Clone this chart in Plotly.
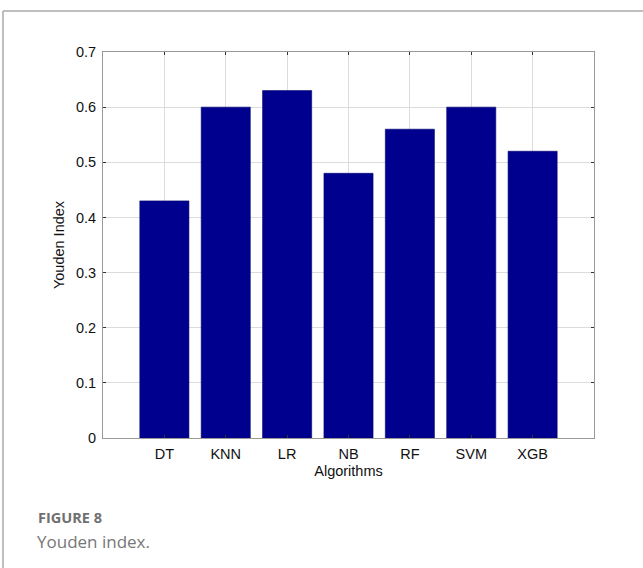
import plotly.graph_objects as go

algorithms = ["DT", "KNN", "LR", "NB", "RF", "SVM", "XGB"]
youden = [0.43, 0.60, 0.63, 0.48, 0.56, 0.60, 0.52]
positions = [1, 2, 3, 4, 5, 6, 7]
y_ticks = [0, 0.1, 0.2, 0.3, 0.4, 0.5, 0.6, 0.7]
y_tick_text = ["0", "0.1", "0.2", "0.3", "0.4", "0.5", "0.6", "0.7"]

fig = go.Figure()
fig.add_trace(go.Bar(
    x=positions, y=youden, width=0.8,
    marker=dict(color="#00008F", line=dict(color="#000070", width=0.6)),
    hoverinfo="skip",
))

font_ax = dict(family="Liberation Sans, Arial, sans-serif", size=14.5, color="#111")

W, H = 643, 568
L, T, R, B = 103, 52, 49, 130
pw, ph = W - L - R, H - T - B

def px(x):  # page x -> paper
    return (x - L) / pw

def py(y):  # page y -> paper
    return (H - B - y) / ph

fig.update_layout(
    width=W, height=H,
    margin=dict(l=L, r=R, t=T, b=B),
    paper_bgcolor="white", plot_bgcolor="white",
    showlegend=False,
    xaxis=dict(
        range=[0, 8], tickmode="array",
        tickvals=[0] + positions + [8],
        ticktext=[""] + algorithms + [""],
        showgrid=True, gridcolor="#dcdcdc", gridwidth=1,
        showline=True, linecolor="#999", linewidth=1, mirror="ticks",
        ticks="inside", ticklen=3, tickcolor="#333", tickwidth=1,
        tickfont=font_ax, zeroline=False, ticklabelstandoff=3,
        title=dict(text="Algorithms", font=font_ax, standoff=4),
    ),
    yaxis=dict(
        range=[0, 0.7], tickmode="array",
        tickvals=y_ticks, ticktext=y_tick_text,
        showgrid=True, gridcolor="#dcdcdc", gridwidth=1,
        showline=True, linecolor="#999", linewidth=1, mirror="ticks",
        ticks="inside", ticklen=3, tickcolor="#333", tickwidth=1,
        tickfont=font_ax, zeroline=False, ticklabelstandoff=3,
        title=dict(text="Youden Index", font=font_ax, standoff=7),
    ),
    shapes=[
        dict(type="line", xref="paper", yref="paper",
             x0=px(3), x1=px(645), y0=py(11), y1=py(11),
             line=dict(color="#aaa", width=1.5)),
        dict(type="line", xref="paper", yref="paper",
             x0=px(3), x1=px(3), y0=py(11), y1=py(570),
             line=dict(color="#aaa", width=1.5)),
    ],
    annotations=[
        dict(text="<b>FIGURE 8</b>", xref="paper", yref="paper",
             x=px(36), y=py(517), xanchor="left", yanchor="middle",
             showarrow=False, font=dict(family="Open Sans, sans-serif", size=14.5, color="#707070")),
        dict(text="Youden index.", xref="paper", yref="paper",
             x=px(35), y=py(541), xanchor="left", yanchor="middle",
             showarrow=False, font=dict(family="Open Sans, sans-serif", size=17, color="#777")),
    ],
)

fig.write_html(
    "out.html",
    config={"displayModeBar": False},
    post_script="document.body.style.margin='0';document.body.style.overflow='hidden';",
)
